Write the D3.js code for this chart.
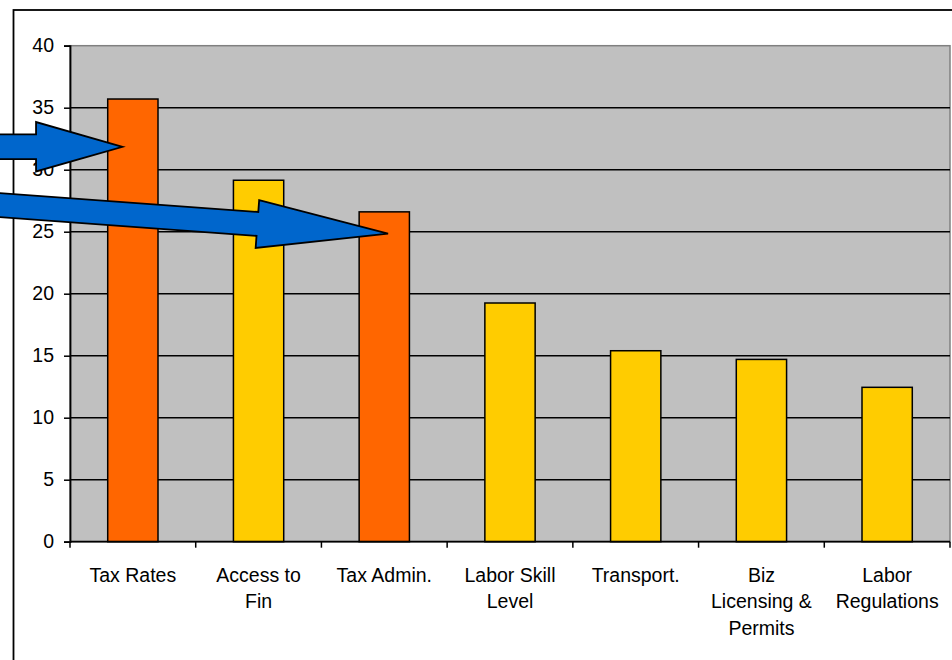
<!DOCTYPE html>
<html>
<head>
<meta charset="utf-8">
<script src="https://cdn.jsdelivr.net/npm/d3@7"></script>
<style>
  html, body { margin: 0; padding: 0; background: #fff; }
  svg { display: block; }
  text { font-family: "Liberation Sans", Arial, sans-serif; fill: #000; }
</style>
</head>
<body>
<svg id="chart" width="952" height="660"></svg>
<script>
// Survey results: share of firms naming each area as a major constraint
const categories = ["Tax Rates", "Access to Fin", "Tax Admin.", "Labor Skill Level", "Transport.", "Biz Licensing & Permits", "Labor Regulations"];
const labelLines = [["Tax Rates"], ["Access to", "Fin"], ["Tax Admin."], ["Labor Skill", "Level"], ["Transport."], ["Biz", "Licensing &", "Permits"], ["Labor", "Regulations"]];
const values = [35.7, 29.15, 26.6, 19.25, 15.4, 14.7, 12.45];
const highlighted = ["Tax Rates", "Tax Admin."];
const yTicks = [0, 5, 10, 15, 20, 25, 30, 35, 40];

// Callout arrows, each pointing at a highlighted category
const arrowTargets = ["Tax Rates", "Tax Admin."];
const arrowTipValues = [31.85, 24.85];

const svg = d3.select("#chart");
const plot = { left: 70, right: 950, top: 45.7, bottom: 541.7 };

const x = d3.scaleBand().domain(categories).range([plot.left, plot.right]).padding(0);
const y = d3.scaleLinear().domain([0, 40]).range([plot.bottom, plot.top]);

// chart area frame
svg.append("rect")
  .attr("x", 13.5).attr("y", 10)
  .attr("width", 960).attr("height", 670)
  .attr("fill", "#fff").attr("stroke", "#000").attr("stroke-width", 1.8);

// plot area background
svg.append("rect")
  .attr("x", plot.left).attr("y", plot.top)
  .attr("width", plot.right - plot.left).attr("height", plot.bottom - plot.top)
  .attr("fill", "#C0C0C0").attr("stroke", "#808080").attr("stroke-width", 1.5);

// horizontal gridlines
svg.append("g").selectAll("line")
  .data(yTicks.filter(d => d > 0 && d < 40))
  .join("line")
  .attr("x1", plot.left).attr("x2", plot.right)
  .attr("y1", d => y(d)).attr("y2", d => y(d))
  .attr("stroke", "#000").attr("stroke-width", 1.5);

// bars
const barW = x.bandwidth() * 0.4;
svg.append("g").selectAll("rect")
  .data(categories)
  .join("rect")
  .attr("x", d => x(d) + (x.bandwidth() - barW) / 2)
  .attr("y", (d, i) => y(values[i]))
  .attr("width", barW)
  .attr("height", (d, i) => y(0) - y(values[i]))
  .attr("fill", d => highlighted.includes(d) ? "#FF6600" : "#FFCC00")
  .attr("stroke", "#000").attr("stroke-width", 1.5);

// y axis
const yAxis = svg.append("g")
  .attr("transform", `translate(${plot.left},0)`)
  .call(d3.axisLeft(y).tickValues(yTicks).tickSize(6).tickPadding(10).tickFormat(d3.format("d")));
yAxis.select(".domain").attr("stroke", "#000").attr("stroke-width", 1.8);
yAxis.selectAll(".tick line").attr("stroke", "#000").attr("stroke-width", 1.5);
yAxis.selectAll(".tick text").attr("font-size", 19.5).attr("font-family", "Liberation Sans, Arial, sans-serif").attr("fill", "#000");

// x axis: ticks on category boundaries
const bounds = categories.map(c => x(c)).concat([plot.right]);
const xAxisG = svg.append("g");
xAxisG.append("line")
  .attr("x1", plot.left).attr("x2", plot.right)
  .attr("y1", plot.bottom).attr("y2", plot.bottom)
  .attr("stroke", "#000").attr("stroke-width", 1.8);
xAxisG.selectAll("line.tick")
  .data(bounds)
  .join("line").attr("class", "tick")
  .attr("x1", d => d).attr("x2", d => d)
  .attr("y1", plot.bottom).attr("y2", plot.bottom + 6)
  .attr("stroke", "#000").attr("stroke-width", 1.5);

// category labels
const lbl = svg.append("g").selectAll("text")
  .data(categories)
  .join("text")
  .attr("text-anchor", "middle")
  .attr("font-size", 19.5)
  .attr("transform", d => `translate(${x(d) + x.bandwidth() / 2},${plot.bottom + 40})`);
lbl.selectAll("tspan")
  .data((d, i) => labelLines[i])
  .join("tspan")
  .attr("x", 0)
  .attr("y", (d, i) => i * 26.8)
  .text(d => d);

// block arrow polygon pointing at (tx, ty)
function arrowPoints(tx, ty, angleDeg, headLen, headHalf, shaftHalf, tailLen) {
  const a = angleDeg * Math.PI / 180;
  const local = [
    [0, 0], [-headLen, -headHalf], [-headLen, -shaftHalf], [-headLen - tailLen, -shaftHalf],
    [-headLen - tailLen, shaftHalf], [-headLen, shaftHalf], [-headLen, headHalf]
  ];
  return local.map(([u, v]) => [tx + u * Math.cos(a) - v * Math.sin(a), ty + u * Math.sin(a) + v * Math.cos(a)]);
}

const arrowShapes = [
  { frac: 0.418, angle: 0, headLen: 86.5, headHalf: 24.7, shaftHalf: 12.3, tailLen: 60 },
  { frac: 0.53, angle: 4.2, headLen: 131, headHalf: 24, shaftHalf: 12, tailLen: 300 }
];

svg.append("g").selectAll("polygon")
  .data(arrowTargets)
  .join("polygon")
  .attr("points", (d, i) => {
    const s = arrowShapes[i];
    return arrowPoints(x(d) + x.bandwidth() * s.frac, y(arrowTipValues[i]), s.angle, s.headLen, s.headHalf, s.shaftHalf, s.tailLen).join(" ");
  })
  .attr("fill", "#0066CC")
  .attr("stroke", "#000")
  .attr("stroke-width", 1.8)
  .attr("stroke-linejoin", "miter");
</script>
</body>
</html>
